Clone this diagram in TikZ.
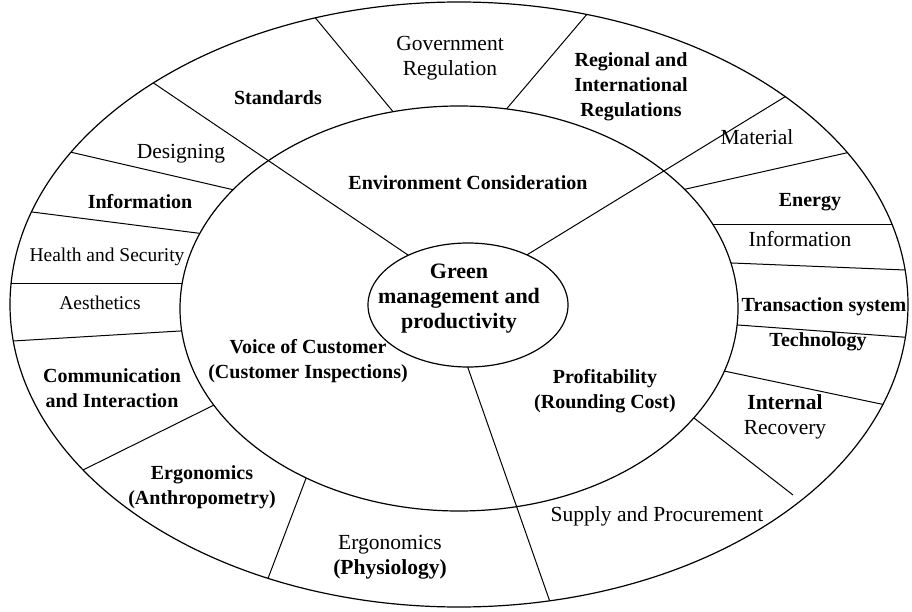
\documentclass[tikz,border=0pt]{standalone}
\usepackage{fontspec}
\setmainfont{Liberation Serif}

\begin{document}
\begin{tikzpicture}[x=1pt, y=-1pt,
  rim/.style={line width=1.2pt},
  divider/.style={line width=1pt, shorten <=-8pt, shorten >=-8pt},
  lbl/.style={font=\fontsize{21.5}{25}\selectfont, align=center, inner sep=0pt},
  smalllbl/.style={font=\fontsize{19.5}{25}\selectfont, align=center, inner sep=0pt},
  blbl/.style={font=\fontsize{20}{25}\selectfont\bfseries, align=center, inner sep=0pt}]

\useasboundingbox (0,0) rectangle (912,612);

% Centres of the three ellipses
\coordinate (rimc) at (459,304.5);
\coordinate (midc) at (459,308.5);
\coordinate (hubc) at (468,305);

\begin{scope}
  \clip (rimc) ellipse [x radius=449, y radius=302.5];

  % Dividers of the outer ring
  \draw[divider] (390,108) -- (313,15);
  \draw[divider] (509,106) -- (588,13);
  \draw[divider] (230,189) -- (70,152);
  \draw[divider] (197,233) -- (32,212);
  \draw[divider] (182,283) -- (10,283);
  \draw[divider] (180,331) -- (13,341);
  \draw[divider] (212,406) -- (83,470);
  \draw[divider] (305,481) -- (267,581);
  \draw[divider, shorten >=0pt] (694,418) -- (793,495);
  \draw[divider] (724,371) -- (881,404);
  \draw[divider] (738,325) -- (902,337);
  \draw[divider] (732,263) -- (905,270);
  \draw[divider] (712,225) -- (890,225);
  \draw[divider] (686,189) -- (846,153);

  % Blank out the middle ring
  \fill[white] (midc) ellipse [x radius=279, y radius=202.5];

  % Spokes from the hub to the rim
  \draw[divider] (408,255) -- (152,82);
  \draw[divider] (530,253) -- (783,98);
  \draw[divider] (468,368) -- (549,599);
\end{scope}

% Ellipses
\draw[rim] (rimc) ellipse [x radius=449, y radius=302.5];
\draw[rim] (midc) ellipse [x radius=279, y radius=202.5];
\draw[rim, fill=white] (hubc) ellipse [x radius=100, y radius=62];

% Hub
\node[font=\fontsize{22}{25}\selectfont\bfseries, align=center, inner sep=0pt] (green) at (459,299) {Green\\management and\\productivity};

% Middle ring
\node[blbl] (environment) at (468,183) {Environment Consideration};
\node[blbl] (voice) at (308,361) {Voice of Customer\\(Customer Inspections)};
\node[blbl] (profit) at (605,391) {Profitability\\(Rounding Cost)};

% Outer ring, clockwise from the top
\node[lbl] (govreg) at (450,58) {Government\\Regulation};
\node[blbl] (intreg) at (631,87) {Regional and\\International\\Regulations};
\node[lbl] (material) at (757,137) {Material};
\node[blbl] (energy) at (810,202) {Energy};
\node[lbl] (inforight) at (800,239) {Information};
\node[blbl] (transaction) at (824,307) {Transaction system};
\node[blbl] (technology) at (818,342) {Technology};
\node[lbl] (recovery) at (785,417) {\textbf{Internal}\\Recovery};
\node[lbl] (supply) at (657,516) {Supply and Procurement};
\node[lbl] (physio) at (390,557) {Ergonomics\\\textbf{(Physiology)}};
\node[blbl] (anthro) at (202,487) {Ergonomics\\(Anthropometry)};
\node[blbl] (communication) at (112,388) {Communication\\and Interaction};
\node[smalllbl] (aesthetics) at (100,303) {Aesthetics};
\node[smalllbl] (health) at (107,257) {Health and Security};
\node[blbl] (infoleft) at (140,202) {Information};
\node[lbl] (designing) at (181,154) {Designing};
\node[blbl] (standards) at (278,98) {Standards};

\end{tikzpicture}
\end{document}
